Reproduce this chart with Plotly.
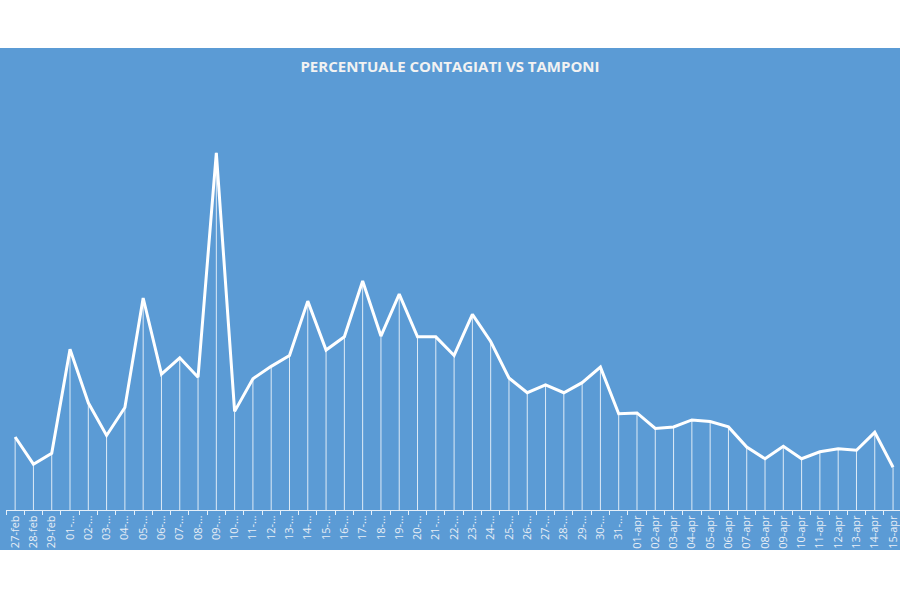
import plotly.graph_objects as go

# percentuale nuovi positivi / nuovi tamponi
giorni = ["27-feb", "28-feb", "29-feb"] + \
    [f"{d:02d}-…" for d in range(1, 32)] + \
    [f"{d:02d}-apr" for d in range(1, 16)]

percentuale = [
    9.4, 5.9, 7.3,
    20.7, 13.8, 9.6, 13.2, 27.3, 17.5, 19.6, 17.1, 46.0, 12.7,
    16.9, 18.5, 19.9, 26.9, 20.6, 22.3, 29.5, 22.4, 27.8, 22.3,
    22.3, 19.9, 25.2, 21.7, 17.0, 15.1, 16.1, 15.1, 16.4, 18.4, 12.4,
    12.5, 10.5, 10.7, 11.6, 11.4, 10.7, 8.1, 6.6, 8.2, 6.6,
    7.5, 7.9, 7.7, 10.0, 5.5,
]

BLU = "#5B9BD5"
BIANCO = "#ffffff"

fig = go.Figure()

# linea con linee di proiezione verso l'asse
fig.add_trace(go.Scatter(
    x=giorni, y=percentuale, mode="lines",
    line=dict(color=BIANCO, width=3),
    error_y=dict(type="data", symmetric=False, array=[0] * len(percentuale),
                 arrayminus=percentuale, width=0, thickness=1,
                 color="rgba(255,255,255,0.8)"),
    showlegend=False,
))

fig.update_layout(
    width=900, height=600,
    paper_bgcolor="white",
    plot_bgcolor="rgba(0,0,0,0)",
    margin=dict(l=6, r=0, t=100, b=90),
    title=dict(text="<b>PERCENTUALE CONTAGIATI VS TAMPONI</b>",
               x=0.5, xanchor="center", y=0.888, yanchor="middle",
               font=dict(family="Open Sans", size=15, color="#f2f2f2")),
    shapes=[dict(type="rect", xref="paper", yref="paper",
                 x0=-0.02, x1=1.02, y0=-0.0976, y1=1.1268,
                 fillcolor=BLU, line=dict(width=0), layer="below")],
)

fig.update_xaxes(
    type="category", range=[-0.5, 48.38],
    showgrid=False, zeroline=False,
    showline=True, linecolor="rgba(255,255,255,0.85)", linewidth=1,
    ticks="outside", tickson="boundaries", ticklen=4,
    tickcolor="rgba(255,255,255,0.85)",
    tickangle=-90,
    tickfont=dict(family="Open Sans", size=11, color="#e8eef6"),
)
fig.update_yaxes(range=[0, 52.8], showgrid=False, zeroline=False,
                 showticklabels=False)

# niente margine del body, così il grafico occupa tutta la finestra
fig.write_html("out.html", config={"displayModeBar": False},
               post_script="document.body.style.margin='0px';")
